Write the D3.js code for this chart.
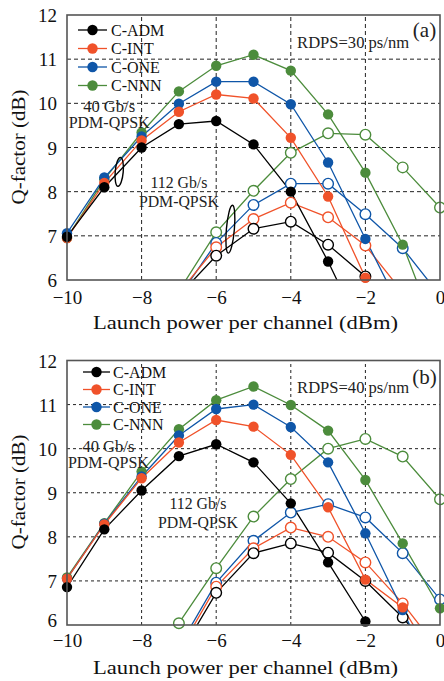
<!DOCTYPE html>
<html><head><meta charset="utf-8">
<script src="https://cdn.jsdelivr.net/npm/d3@7"></script>
<style>html,body{margin:0;padding:0;background:#fff;}</style>
</head><body>
<svg id="chart" width="444" height="681"></svg>
<script>
// ---------------- DATA ----------------
const seriesNames = ["C-ADM", "C-INT", "C-ONE", "C-NNN"];
const xTicks = [-10, -8, -6, -4, -2, 0];
const yTicks = [6, 7, 8, 9, 10, 11, 12];
const x40 = [-10, -9, -8, -7, -6, -5, -4, -3, -2, -1, 0];
const x112 = [-7, -6, -5, -4, -3, -2, -1, 0];

// panel (a), RDPS = 30 ps/nm, 40 Gb/s (filled markers)
const admA40 = [6.98, 8.1, 9.0, 9.53, 9.6, 9.07, 8.0, 6.42, 4.65];
const intA40 = [6.95, 8.2, 9.16, 9.81, 10.2, 10.11, 9.22, 7.89, 6.05, 4.5];
const oneA40 = [7.06, 8.32, 9.25, 9.99, 10.49, 10.49, 9.98, 8.66, 6.93, 5.25];
const nnnA40 = [6.95, 8.28, 9.34, 10.27, 10.85, 11.1, 10.74, 9.75, 8.43, 6.8, 4.6];
// panel (a), 112 Gb/s (open markers)
const admA112 = [5.65, 6.55, 7.16, 7.32, 6.8, 6.08, 4.5];
const intA112 = [5.71, 6.74, 7.38, 7.75, 7.42, 6.78, 5.72];
const oneA112 = [5.62, 6.84, 7.7, 8.18, 8.18, 7.49, 6.72, 5.65];
const nnnA112 = [5.75, 7.08, 8.02, 8.88, 9.32, 9.29, 8.55, 7.64];

// panel (b), RDPS = 40 ps/nm, 40 Gb/s
const admB40 = [6.86, 8.17, 9.05, 9.83, 10.1, 9.69, 8.76, 7.42, 6.08, 4.7];
const intB40 = [7.05, 8.28, 9.33, 10.14, 10.65, 10.5, 9.86, 8.67, 7.03, 6.4, 5.0];
const oneB40 = [7.05, 8.3, 9.37, 10.3, 10.9, 11.0, 10.49, 9.69, 8.08, 6.34, 4.5];
const nnnB40 = [7.08, 8.31, 9.48, 10.44, 11.1, 11.41, 10.99, 10.41, 9.29, 7.85, 6.38];
// panel (b), 112 Gb/s
const admB112 = [5.3, 6.73, 7.63, 7.85, 7.64, 7.0, 6.17, 5.2];
const intB112 = [5.4, 6.87, 7.74, 8.21, 8.0, 7.42, 6.49, 5.4];
const oneB112 = [5.5, 6.96, 7.91, 8.55, 8.74, 8.44, 7.63, 6.58];
const nnnB112 = [6.04, 7.29, 8.46, 9.31, 10.0, 10.22, 9.82, 8.85];

const rdpsLabels = ["RDPS=30 ps/nm", "RDPS=40 ps/nm"];
const panelTags = ["(a)", "(b)"];

// ---------------- STYLE / LAYOUT ----------------
const colors = ["#000000", "#f0522a", "#0f56a8", "#4c8c3c"];
const FONT = "'Liberation Serif', 'Times New Roman', serif";
const svg = d3.select("#chart");
const xScale = d3.scaleLinear().domain([-10, 0]).range([67, 440]);

const panels = [
  { top: 15, bottom: 280, tickDy: 17, sixShift: 0, titleY: 329, yLabelY: 147,
    s40: [admA40, intA40, oneA40, nnnA40], s112: [admA112, intA112, oneA112, nnnA112],
    legendX: [78, 107, 111], legendY: [30, 48.5, 67, 85.5], dash: "4,3",
    ann40: [-8.87, 9.92, 9.56], ann112: [-7.0, 8.22, 7.77], rdpsY: 11.37, tagY: 30,
    ellipses: [[-8.6, 8.45, 4, 14.5], [-5.62, 7.15, 4, 24]] },
  { top: 360.5, bottom: 625, tickDy: 15, sixShift: -5, titleY: 674, yLabelY: 492,
    s40: [admB40, intB40, oneB40, nnnB40], s112: [admB112, intB112, oneB112, nnnB112],
    legendX: [83, 110, 113], legendY: [372, 389.5, 407, 424.5], dash: "3,3",
    ann40: [-8.89, 10.06, 9.68], ann112: [-6.49, 8.75, 8.32], rdpsY: 11.38, tagY: 377,
    ellipses: [] }
];

function fitText(sel, w) {
  sel.attr("textLength", w).attr("lengthAdjust", "spacingAndGlyphs");
}

panels.forEach((p, pi) => {
  const y = d3.scaleLinear().domain([6, 12]).range([p.bottom, p.top]);
  const g = svg.append("g");
  const clipId = "clip" + pi;
  svg.append("clipPath").attr("id", clipId).append("rect")
    .attr("x", xScale(-10)).attr("y", y(12))
    .attr("width", xScale(0) - xScale(-10)).attr("height", y(6) - y(12));

  // grid
  g.append("g").selectAll("line").data(xTicks.filter(t => t > -10 && t < 0)).join("line")
    .attr("x1", d => xScale(d)).attr("x2", d => xScale(d))
    .attr("y1", y(6)).attr("y2", y(12))
    .attr("stroke", "#222").attr("stroke-width", 1).attr("stroke-dasharray", p.dash);
  g.append("g").selectAll("line").data(yTicks.filter(t => t > 6 && t < 12)).join("line")
    .attr("y1", d => y(d)).attr("y2", d => y(d))
    .attr("x1", xScale(-10)).attr("x2", xScale(0))
    .attr("stroke", "#222").attr("stroke-width", 1).attr("stroke-dasharray", p.dash);

  // axes (labels only)
  const xAxis = g.append("g").attr("transform", `translate(0,${y(6)})`)
    .call(d3.axisBottom(xScale).tickValues(xTicks).tickSize(0)
      .tickFormat(d => d < 0 ? "\u2212" + Math.abs(d) : String(d)));
  xAxis.select(".domain").remove();
  xAxis.selectAll("text").attr("y", p.tickDy).attr("dy", "0.35em")
    .attr("font-family", FONT).attr("font-size", 19).attr("fill", "#111");

  const yAxis = g.append("g").attr("transform", `translate(${xScale(-10)},0)`)
    .call(d3.axisLeft(y).tickValues(yTicks).tickSize(0).tickFormat(d3.format("d")));
  yAxis.select(".domain").remove();
  yAxis.selectAll("text").attr("x", -10).attr("dy", "0.35em")
    .attr("y", d => d === 6 ? p.sixShift : 0)
    .attr("font-family", FONT).attr("font-size", 19).attr("fill", "#111");

  // axis titles
  g.append("text").attr("x", 245.5).attr("y", p.titleY).attr("text-anchor", "middle")
    .attr("font-family", FONT).attr("font-size", 19).attr("fill", "#111")
    .text("Launch power per channel (dBm)").call(fitText, 305);
  g.append("text").attr("transform", `translate(18,${p.yLabelY}) rotate(-90)`)
    .attr("text-anchor", "middle").attr("dy", "0.35em")
    .attr("font-family", FONT).attr("font-size", 19).attr("fill", "#111")
    .text("Q-factor (dB)").call(fitText, 115);

  // series
  const plot = g.append("g").attr("clip-path", `url(#${clipId})`);
  const line = d3.line().x(d => xScale(d[0])).y(d => y(d[1]));
  const order = [3, 2, 1, 0];
  const pts112 = p.s112.map(s => s.map((v, i) => [x112[i], v]));
  const pts40 = p.s40.map(s => s.map((v, i) => [x40[i], v]));
  const mk = g.append("g");

  order.forEach(k => {
    plot.append("path").datum(pts112[k]).attr("d", line)
      .attr("fill", "none").attr("stroke", colors[k]).attr("stroke-width", 1.3);
  });
  order.forEach(k => {
    mk.append("g").selectAll("circle").data(pts112[k].filter(d => d[1] >= 5.92)).join("circle")
      .attr("cx", d => xScale(d[0])).attr("cy", d => y(d[1])).attr("r", 5.3)
      .attr("fill", "#fff").attr("stroke", colors[k]).attr("stroke-width", 1.4);
  });
  order.forEach(k => {
    plot.append("path").datum(pts40[k]).attr("d", line)
      .attr("fill", "none").attr("stroke", colors[k]).attr("stroke-width", 1.3);
  });
  order.forEach(k => {
    mk.append("g").selectAll("circle").data(pts40[k].filter(d => d[1] >= 5.92)).join("circle")
      .attr("cx", d => xScale(d[0])).attr("cy", d => y(d[1])).attr("r", 5.2)
      .attr("fill", colors[k]);
  });

  // ellipses
  p.ellipses.forEach(e => {
    g.append("ellipse").attr("cx", 0).attr("cy", 0).attr("rx", e[2]).attr("ry", e[3])
      .attr("transform", `translate(${xScale(e[0])},${y(e[1])}) rotate(5)`)
      .attr("fill", "none").attr("stroke", "#000").attr("stroke-width", 1.4);
  });

  // frame
  g.append("rect").attr("x", xScale(-10)).attr("y", y(12))
    .attr("width", xScale(0) - xScale(-10)).attr("height", y(6) - y(12))
    .attr("fill", "none").attr("stroke", "#555").attr("stroke-width", 1.6);

  // annotations
  const ann = (txt, xv, yv, w, fs) => g.append("text").attr("x", xScale(xv)).attr("y", y(yv))
    .attr("text-anchor", "middle").attr("dy", "0.35em")
    .attr("font-family", FONT).attr("font-size", fs).attr("fill", "#222")
    .text(txt).call(fitText, w);
  ann("40 Gb/s", p.ann40[0], p.ann40[1], 52, 16);
  ann("PDM-QPSK", p.ann40[0], p.ann40[2], 81, 16);
  ann("112 Gb/s", p.ann112[0], p.ann112[1], 57, 16);
  ann("PDM-QPSK", p.ann112[0], p.ann112[2], 80, 16);
  ann(rdpsLabels[pi], -2.33, p.rdpsY, 112, 16);
  g.append("text").attr("x", 424.5).attr("y", p.tagY).attr("text-anchor", "middle")
    .attr("dy", "0.35em").attr("font-family", FONT).attr("font-size", 21).attr("fill", "#222")
    .text(panelTags[pi]);

  // legend
  seriesNames.forEach((name, k) => {
    const ly = p.legendY[k];
    g.append("line").attr("x1", p.legendX[0]).attr("x2", p.legendX[1])
      .attr("y1", ly).attr("y2", ly).attr("stroke", colors[k]).attr("stroke-width", 1.3);
    g.append("circle").attr("cx", (p.legendX[0] + p.legendX[1]) / 2).attr("cy", ly)
      .attr("r", 5.2).attr("fill", colors[k]);
    g.append("text").attr("x", p.legendX[2]).attr("y", ly).attr("dy", "0.35em")
      .attr("font-family", FONT).attr("font-size", 16).attr("fill", "#111").text(name);
  });
});
</script>
</body></html>
